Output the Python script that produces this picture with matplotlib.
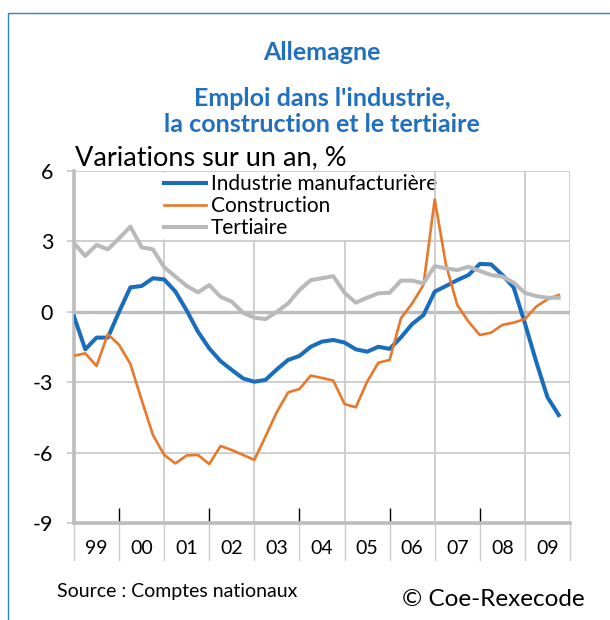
import numpy as np
import matplotlib.pyplot as plt
from matplotlib.patches import Rectangle

plt.rcParams['font.family'] = ['Lato', 'DejaVu Sans']

# quarterly data, 1999 Q1 to 2009 Q4
industrie = [-0.2, -1.6, -1.1, -1.1, 0.0, 1.04, 1.1, 1.43, 1.38, 0.86, 0.05, -0.85,
             -1.56, -2.1, -2.48, -2.84, -2.98, -2.9, -2.45, -2.05, -1.88, -1.49, -1.27, -1.2,
             -1.31, -1.6, -1.7, -1.49, -1.58, -1.09, -0.52, -0.14, 0.86, 1.1, 1.35, 1.57,
             2.04, 2.02, 1.57, 1.04, -0.49, -2.12, -3.64, -4.4]
construction = [-1.87, -1.77, -2.31, -0.95, -1.41, -2.22, -3.76, -5.25, -6.1, -6.46, -6.12, -6.1,
                -6.49, -5.72, -5.89, -6.1, -6.31, -5.3, -4.26, -3.43, -3.29, -2.72, -2.82, -2.93,
                -3.93, -4.07, -2.98, -2.17, -2.05, -0.28, 0.36, 1.14, 4.79, 2.0, 0.29, -0.42,
                -0.99, -0.89, -0.56, -0.46, -0.31, 0.22, 0.53, 0.72]
tertiaire = [2.92, 2.38, 2.85, 2.66, 3.13, 3.63, 2.75, 2.66, 1.9, 1.5, 1.1, 0.83,
             1.14, 0.64, 0.43, -0.04, -0.25, -0.31, 0.0, 0.36, 0.93, 1.35, 1.43, 1.52,
             0.81, 0.39, 0.6, 0.79, 0.81, 1.33, 1.33, 1.21, 1.95, 1.85, 1.78, 1.92,
             1.74, 1.57, 1.5, 1.24, 0.81, 0.67, 0.6, 0.6]
year_labels = ['99', '00', '01', '02', '03', '04', '05', '06', '07', '08', '09']
y_ticks = [-9, -6, -3, 0, 3, 6]

blue = '#1a6dbd'
orange = '#e8782a'
grey = '#b9b9b9'
title_blue = '#1f70c1'
grid_c = '#cccccc'

W, H = 610, 620
fig = plt.figure(figsize=(W / 100, H / 100), dpi=100)
ax = fig.add_axes([74 / W, 1 - 523 / H, (570 - 74) / W, (523 - 171) / H])

x = 1999 + np.arange(len(industrie)) * 0.25
ax.plot(x, industrie, color=blue, lw=2.9, label='Industrie manufacturière', zorder=4)
ax.plot(x, construction, color=orange, lw=1.9, label='Construction', zorder=4)
ax.plot(x, tertiaire, color=grey, lw=2.9, label='Tertiaire', zorder=4)

ax.set_xlim(1999, 2010)
ax.set_ylim(-9, 6)

# grid
for v in [6, 3, -3, -6]:
    ax.axhline(v, color=grid_c, lw=1.3, zorder=1)
ax.axhline(0, color='#bdbdbd', lw=2.4, zorder=2)
for yr in [2001, 2003, 2005, 2009, 2010]:
    ax.axvline(yr, color=grid_c, lw=1.3, zorder=1)
ax.axvline(2007, color=grid_c, lw=1.3, zorder=3.5)  # this one is not hidden by the legend

for s in ['top', 'right']:
    ax.spines[s].set_visible(False)
ax.spines['left'].set_color('#bdbdbd')
ax.spines['left'].set_linewidth(2.6)
ax.spines['bottom'].set_color('#bdbdbd')
ax.spines['bottom'].set_linewidth(2.6)

ax.set_yticks(y_ticks)
ax.set_yticklabels([str(v) for v in y_ticks], fontsize=15.5)
ax.tick_params(axis='y', length=5, width=1.3, color=grid_c, pad=10)

ax.set_xticks([2000, 2002, 2004, 2006, 2008])
ax.set_xticklabels([])
ax.tick_params(axis='x', direction='in', length=11, width=1, color='black')

# category band below the axis
trans = ax.get_xaxis_transform()
for yr in range(1999, 2011):
    ax.plot([yr, yr], [0, -0.105], transform=trans, color=grid_c, lw=1, clip_on=False)
for i, lab in enumerate(year_labels):
    ax.text(1999.5 + i, -0.072, lab, transform=trans, ha='center', va='center', fontsize=14)

leg = ax.legend(loc='upper left', bbox_to_anchor=((162 - 74) / (570 - 74), 0.997),
                frameon=True, fontsize=15, handlelength=2.0, handletextpad=0.25,
                labelspacing=0.1, borderpad=0.1, borderaxespad=0)
leg.get_frame().set_facecolor('white')
leg.get_frame().set_edgecolor('none')
leg.get_frame().set_alpha(1)
leg.set_zorder(3)

# titles and notes
cx = (74 + 570) / 2 / W
fig.text(cx, 1 - 53 / H, 'Allemagne', ha='center', va='center', fontsize=18,
         fontweight='bold', color=title_blue)
fig.text(cx, 1 - 99 / H, "Emploi dans l'industrie,", ha='center', va='center', fontsize=18,
         fontweight='bold', color=title_blue)
fig.text(cx, 1 - 125 / H, 'la construction et le tertiaire', ha='center', va='center',
         fontsize=18, fontweight='bold', color=title_blue)
fig.text(75 / W, 1 - 158 / H, 'Variations sur un an, %', ha='left', va='center', fontsize=19.5)
fig.text(57 / W, 1 - 592 / H, 'Source : Comptes nationaux', ha='left', va='center', fontsize=14)
fig.text(585 / W, 1 - 599 / H, '© Coe-Rexecode', ha='right', va='center', fontsize=17.5)

# outer frame
fig.patches.append(Rectangle((8 / W, -0.1), 1.2, 1 - 13 / H + 0.1, transform=fig.transFigure,
                             fill=False, edgecolor='#2b86d1', lw=1))

fig.savefig('out.png', dpi=100)
